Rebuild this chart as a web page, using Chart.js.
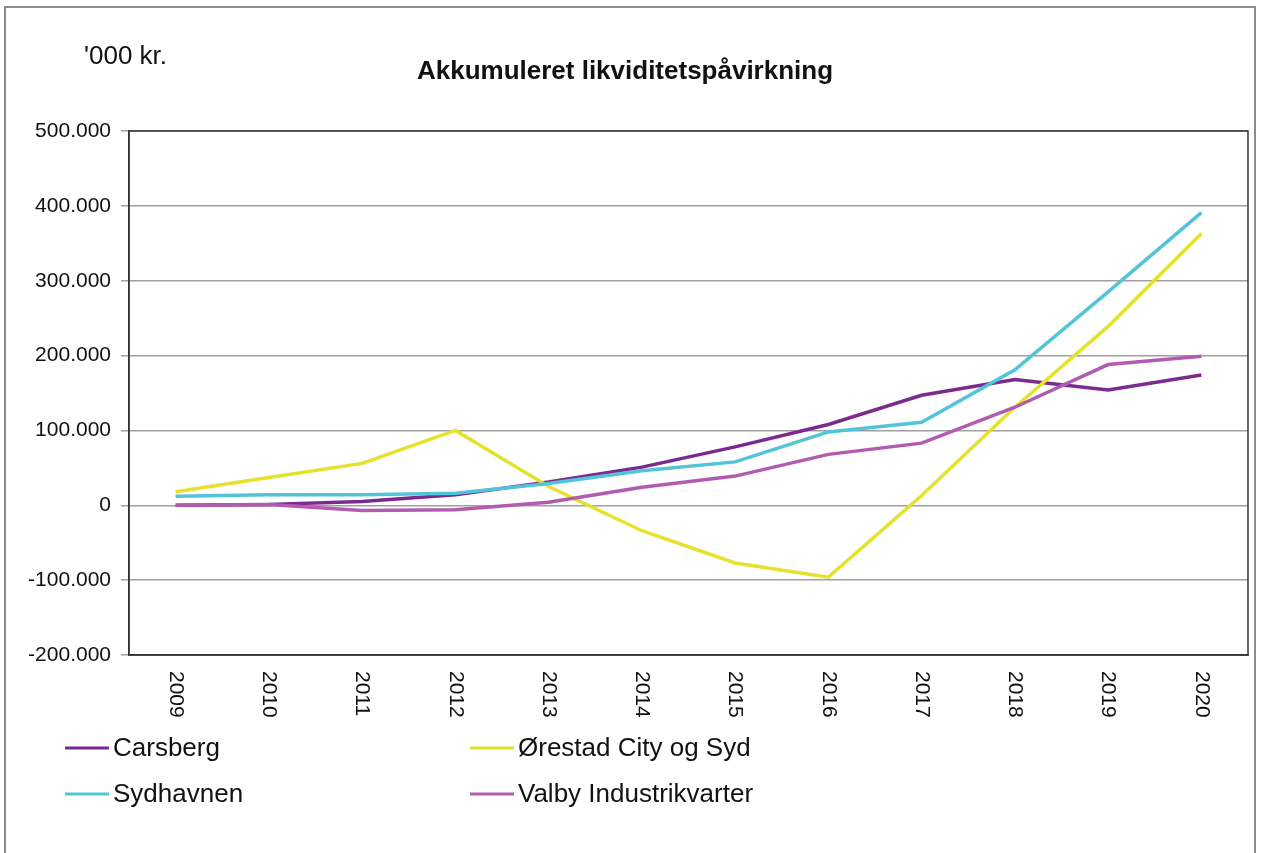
<!DOCTYPE html>
<html>
<head>
<meta charset="utf-8">
<title>Akkumuleret likviditetspåvirkning</title>
<script src="https://cdn.jsdelivr.net/npm/chart.js@4.4.1/dist/chart.umd.min.js"></script>
<style>
  html, body { margin: 0; padding: 0; background: #fff; }
  canvas { display: block; }
</style>
</head>
<body>
<canvas id="myChart" width="1261" height="853"></canvas>
<script>
// data ('000 kr.)
const years = ['2009', '2010', '2011', '2012', '2013', '2014', '2015', '2016', '2017', '2018', '2019', '2020'];
const carsberg = [0, 1000, 5000, 14000, 31000, 51000, 78000, 108000, 147000, 168000, 154000, 174000];
const oerestad = [18000, 37000, 56000, 100000, 25000, -34000, -77000, -96000, 13000, 131000, 239000, 363000];
const sydhavnen = [12000, 14000, 14000, 16000, 29000, 46000, 58000, 98000, 111000, 181000, 285000, 391000];
const valby = [0, 1000, -7000, -6000, 4000, 24000, 39000, 68000, 83000, 131000, 188000, 199000];

const titleText = 'Akkumuleret likviditetspåvirkning';
const unitText = "'000 kr.";

const FONT = '"Liberation Sans", Arial, Helvetica, sans-serif';

// 500000 -> "500.000"
function fmt(v) {
  const s = String(Math.abs(v)).replace(/\B(?=(\d{3})+(?!\d))/g, '.');
  return v < 0 ? '-' + s : s;
}

// draws frame, title, rotated year labels and legend
const extras = {
  id: 'extras',
  afterDraw(chart) {
    const ctx = chart.ctx;
    const area = chart.chartArea;
    const x = chart.scales.x;
    ctx.save();

    // outer border
    ctx.strokeStyle = '#8c8c8c';
    ctx.lineWidth = 2;
    ctx.strokeRect(5, 7, 1250, 900);

    // plot frame
    ctx.strokeStyle = '#333';
    ctx.lineWidth = 1.5;
    ctx.strokeRect(area.left, area.top, area.right - area.left, area.bottom - area.top);

    // unit + title
    ctx.fillStyle = '#111';
    ctx.textBaseline = 'alphabetic';
    ctx.textAlign = 'left';
    ctx.font = '26px ' + FONT;
    ctx.fillText(unitText, 84, 64);
    ctx.textAlign = 'center';
    ctx.font = 'bold 26px ' + FONT;
    ctx.fillText(titleText, 625, 79);

    // year labels, rotated clockwise
    ctx.font = '21px ' + FONT;
    ctx.textAlign = 'left';
    ctx.textBaseline = 'middle';
    years.forEach((y, i) => {
      ctx.save();
      ctx.translate(x.getPixelForTick(i), 671);
      ctx.rotate(Math.PI / 2);
      ctx.fillText(y, 0, 0);
      ctx.restore();
    });

    // legend, 2 columns
    const cols = [65, 470];
    const rows = [748, 794];
    ctx.font = '26px ' + FONT;
    ctx.textBaseline = 'alphabetic';
    chart.data.datasets.forEach((ds, i) => {
      const lx = cols[i % 2];
      const ly = rows[Math.floor(i / 2)];
      ctx.strokeStyle = ds.borderColor;
      ctx.lineWidth = 3;
      ctx.beginPath();
      ctx.moveTo(lx, ly);
      ctx.lineTo(lx + 44, ly);
      ctx.stroke();
      ctx.fillStyle = '#111';
      ctx.fillText(ds.label, lx + 48, ly + 8);
    });

    ctx.restore();
  }
};

const ctx = document.getElementById('myChart').getContext('2d');

new Chart(ctx, {
  type: 'line',
  data: {
    labels: years,
    datasets: [
      { label: 'Carsberg', data: carsberg, borderColor: '#7b2b90', order: 4 },
      { label: 'Ørestad City og Syd', data: oerestad, borderColor: '#e6e22c', order: 3 },
      { label: 'Sydhavnen', data: sydhavnen, borderColor: '#52c4d8', order: 2 },
      { label: 'Valby Industrikvarter', data: valby, borderColor: '#b25cb0', order: 1 }
    ]
  },
  options: {
    responsive: false,
    animation: false,
    devicePixelRatio: 1,
    elements: {
      line: { borderWidth: 3.5, tension: 0, fill: false },
      point: { radius: 0, hoverRadius: 0 }
    },
    layout: { padding: { top: 131, right: 13, left: 0, bottom: 0 } },
    plugins: {
      legend: { display: false },
      title: { display: false },
      tooltip: { enabled: false }
    },
    scales: {
      x: {
        offset: true,
        grid: { display: false },
        border: { display: true, color: '#333', width: 1.5 },
        ticks: { display: false },
        afterFit(scale) { scale.height = 198; }
      },
      y: {
        min: -200000,
        max: 500000,
        ticks: {
          stepSize: 100000,
          padding: 10,
          color: '#111',
          font: { family: FONT, size: 21 },
          callback: (v) => fmt(v)
        },
        grid: { color: '#a0a0a0', lineWidth: 1.5, tickLength: 8, drawTicks: true },
        border: { display: true, color: '#333', width: 1.5 },
        afterFit(scale) { scale.width = 129; }
      }
    }
  },
  plugins: [extras]
});
</script>
</body>
</html>
